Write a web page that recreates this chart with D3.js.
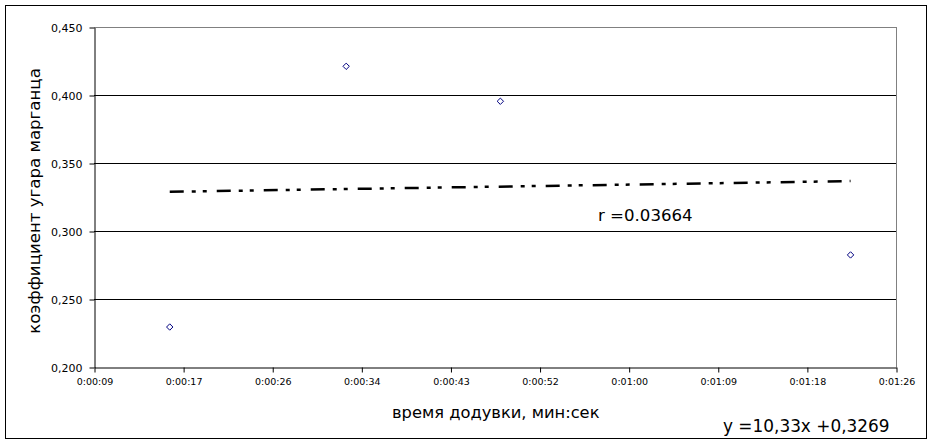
<!DOCTYPE html>
<html>
<head>
<meta charset="utf-8">
<script src="https://cdn.jsdelivr.net/npm/d3@7"></script>
<style>
  body { margin: 0; background: #fff; }
  svg { font-family: "DejaVu Sans", sans-serif; }
</style>
</head>
<body>
<script>
// data (x in fractions of a day, as in the spreadsheet)
const timeDays = [0.000185, 0.000383, 0.000556, 0.000949];
const coef = [0.2294, 0.4211, 0.3954, 0.2824];
const xTickValues = [0.0001, 0.0002, 0.0003, 0.0004, 0.0005, 0.0006, 0.0007, 0.0008, 0.0009, 0.0010];
const xTickLabels = ["0:00:09", "0:00:17", "0:00:26", "0:00:34", "0:00:43", "0:00:52", "0:01:00", "0:01:09", "0:01:18", "0:01:26"];
const yTickValues = [0.200, 0.250, 0.300, 0.350, 0.400, 0.450];
const trend = { slope: 10.33, intercept: 0.3269, r: "0.03664" };

const W = 932, H = 444;
const plot = { left: 94, right: 896, top: 27, bottom: 367 };

const svg = d3.select("body").append("svg")
    .attr("width", W)
    .attr("height", H);

// outer frame
svg.append("rect")
    .attr("x", 5.5).attr("y", 5.5)
    .attr("width", 921).attr("height", 433)
    .attr("fill", "#fff")
    .attr("stroke", "#000");

const x = d3.scaleLinear()
    .domain([xTickValues[0], xTickValues[xTickValues.length - 1]])
    .range([plot.left, plot.right]);

const y = d3.scaleLinear()
    .domain([yTickValues[0], yTickValues[yTickValues.length - 1]])
    .range([plot.bottom, plot.top]);

// gridlines
svg.append("g")
  .selectAll("line")
  .data(yTickValues.slice(1))
  .enter().append("line")
    .attr("x1", plot.left).attr("x2", plot.right)
    .attr("y1", d => Math.round(y(d)) + 0.5)
    .attr("y2", d => Math.round(y(d)) + 0.5)
    .attr("stroke", (d, i, n) => i === n.length - 1 ? "#808080" : "#000");

// right border of plot area
svg.append("line")
    .attr("x1", plot.right + 0.5).attr("x2", plot.right + 0.5)
    .attr("y1", plot.top).attr("y2", plot.bottom)
    .attr("stroke", "#808080");

// y axis
const yAxis = svg.append("g")
    .attr("transform", `translate(${plot.left + 0.5},0.5)`)
    .call(d3.axisLeft(y).tickValues(yTickValues)
        .tickFormat(d => d3.format(".3f")(d).replace(".", ","))
        .tickSize(5).tickSizeOuter(0).tickPadding(7));
yAxis.select(".domain").attr("stroke", "#000");
yAxis.selectAll("text").attr("font-size", "11px").attr("fill", "#000")
    .attr("font-family", "DejaVu Sans");

// x axis
const xAxis = svg.append("g")
    .attr("transform", `translate(0.5,${plot.bottom + 0.5})`)
    .call(d3.axisBottom(x).tickValues(xTickValues)
        .tickFormat((d, i) => xTickLabels[i])
        .tickSize(5).tickSizeOuter(0).tickPadding(6));
xAxis.selectAll("text").attr("font-size", "9.5px").attr("fill", "#000")
    .attr("font-family", "DejaVu Sans");

// trendline
const tx = d3.extent(timeDays);
svg.append("line")
    .attr("x1", x(tx[0])).attr("y1", y(trend.slope * tx[0] + trend.intercept))
    .attr("x2", x(tx[1])).attr("y2", y(trend.slope * tx[1] + trend.intercept))
    .attr("stroke", "#000")
    .attr("stroke-width", 2.5)
    .attr("stroke-dasharray", "14,8,4,7,4,10");

// points
svg.append("g")
  .selectAll("path")
  .data(timeDays.map((t, i) => [t, coef[i]]))
  .enter().append("path")
    .attr("d", d3.symbol(d3.symbolDiamond2, 26))
    .attr("transform", d => `translate(${x(d[0])},${y(d[1])})`)
    .attr("fill", "#fff")
    .attr("stroke", "#000080")
    .attr("stroke-width", 1);

// labels
svg.append("text")
    .attr("x", 598).attr("y", 221)
    .attr("font-size", "16.6px")
    .text("r =" + trend.r);

svg.append("text")
    .attr("x", 392).attr("y", 418)
    .attr("font-size", "16.3px")
    .text("время додувки, мин:сек");

svg.append("text")
    .attr("x", 723).attr("y", 432)
    .attr("font-size", "16.9px")
    .text("y =" + String(trend.slope).replace(".", ",") + "x +" + String(trend.intercept).replace(".", ","));

svg.append("text")
    .attr("transform", `translate(40,${(plot.top + plot.bottom) / 2 + 4}) rotate(-90)`)
    .attr("text-anchor", "middle")
    .attr("font-size", "16.6px")
    .text("коэффициент угара марганца");
</script>
</body>
</html>
